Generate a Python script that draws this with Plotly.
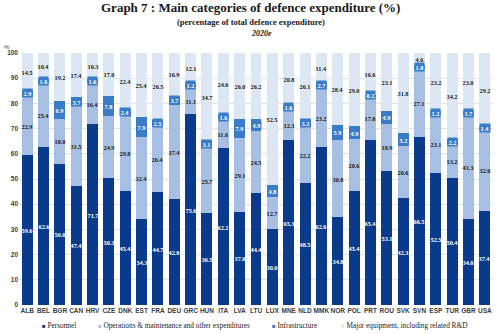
import plotly.graph_objects as go

countries = ["ALB", "BEL", "BGR", "CAN", "HRV", "CZE", "DNK", "EST", "FRA", "DEU",
             "GRC", "HUN", "ITA", "LVA", "LTU", "LUX", "MNE", "NLD", "MMK", "NOR",
             "POL", "PRT", "ROU", "SVK", "SVN", "ESP", "TUR", "GBR", "USA"]
personnel = [59.6, 62.6, 56.0, 47.4, 71.7, 50.3, 45.4, 34.3, 44.7, 42.0,
             75.6, 36.5, 62.2, 37.0, 44.4, 30.0, 65.3, 48.5, 62.6, 34.8,
             45.4, 65.4, 53.1, 42.3, 66.5, 52.5, 50.4, 34.0, 37.4]
operations = [22.9, 25.4, 18.0, 31.5, 16.4, 24.9, 29.8, 32.4, 26.4, 37.4,
              11.1, 25.7, 11.6, 29.1, 24.5, 12.7, 12.3, 22.2, 23.2, 30.8,
              20.6, 17.8, 18.9, 20.6, 27.1, 23.1, 13.2, 41.3, 32.0]
infrastructure = [2.9, 1.6, 6.9, 3.7, 1.6, 7.8, 2.4, 7.9, 2.5, 3.7,
                  1.2, 3.1, 1.6, 7.9, 4.9, 4.8, 1.6, 3.2, 2.7, 5.9,
                  4.9, 0.2, 4.9, 5.2, 1.8, 1.2, 2.2, 1.7, 1.4]
equipment = [14.5, 10.4, 19.2, 17.4, 10.3, 17.0, 22.4, 25.4, 26.5, 16.9,
             12.1, 34.7, 24.6, 26.0, 26.2, 52.5, 20.8, 26.1, 11.4, 28.4,
             29.0, 16.6, 23.1, 31.8, 4.6, 23.2, 34.2, 23.0, 29.2]
y_ticks = [0, 10, 20, 30, 40, 50, 60, 70, 80, 90, 100]

series = [
    ("Personnel", personnel, "#0a3b8a", "white", None),
    ("Operations & maintenance and other expenditures", operations, "#a6bfe2", "#1a1a1a", None),
    ("Infrastructure", infrastructure, "#3a7cc6", "white", "#3a7cc6"),
    ("Major equipment, including related R&D", equipment, "#dde7f4", "#1a1a1a", None),
]

W, H = 500, 334
ML, MR, MT, MB = 19, 7, 53, 29
PW, PH = W - ML - MR, H - MT - MB


def px_x(px):
    """Figure pixel column -> paper x."""
    return (px - ML) / PW


def px_y(py):
    """Figure pixel row (from top) -> paper y."""
    return (H - MB - py) / PH


SERIF = "Liberation Serif"
fig = go.Figure()
base = [0.0] * len(countries)
annotations = []
for name, vals, color, txtcolor, boxcolor in series:
    fig.add_trace(go.Bar(x=countries, y=vals, name=name, marker_color=color,
                         marker_line_width=0, showlegend=False))
    for c, b, v in zip(countries, base, vals):
        annotations.append(dict(
            x=c, y=b + v / 2, xref="x", yref="y", text=f"{v:.1f}", showarrow=False,
            font=dict(family=SERIF, size=6.3, color=txtcolor, weight="bold"),
            bgcolor=boxcolor, borderpad=0.5,
        ))
    base = [b + v for b, v in zip(base, vals)]

# titles
annotations += [
    dict(x=px_x(250), y=px_y(8), xref="paper", yref="paper", yanchor="middle", showarrow=False,
         text="<b>Graph 7 : Main categories of defence expenditure (%)</b>",
         font=dict(family=SERIF, size=13, color="#1a1a1a")),
    dict(x=px_x(251), y=px_y(22), xref="paper", yref="paper", yanchor="middle", showarrow=False,
         text="<b>(percentage of total defence expenditure)</b>",
         font=dict(family=SERIF, size=8.5, color="#1a1a1a")),
    dict(x=px_x(261), y=px_y(33), xref="paper", yref="paper", yanchor="middle", showarrow=False,
         text="<b><i>2020e</i></b>",
         font=dict(family=SERIF, size=8, color="#1a1a1a")),
    dict(x=px_x(2), y=px_y(47), xref="paper", yref="paper", xanchor="left", yanchor="middle",
         showarrow=False, text="%", font=dict(family="Liberation Sans", size=6, color="#404040")),
]

# legend drawn as a row of coloured squares with labels
legend_x = [40, 96, 270, 339]
for (name, _, color, _, _), lx in zip(series, legend_x):
    annotations.append(dict(
        x=px_x(lx), y=px_y(325), xref="paper", yref="paper", xanchor="left", yanchor="middle",
        showarrow=False,
        text=f"<span style='color:{color};font-size:6px'>■</span> {name}",
        font=dict(family=SERIF, size=7.3, color="#1a1a1a"),
    ))

fig.update_layout(
    barmode="stack", bargap=0.33,
    width=W, height=H,
    margin=dict(l=ML, r=MR, t=MT, b=MB, autoexpand=False),
    paper_bgcolor="white", plot_bgcolor="white",
    annotations=annotations,
    xaxis=dict(tickfont=dict(family="Liberation Sans", size=6.5, color="#404040", weight="bold"),
               showgrid=False, ticks="", showline=False, tickangle=0, automargin=False),
    yaxis=dict(range=[0, 100], tickvals=y_ticks, automargin=False,
               tickfont=dict(family="Liberation Sans", size=6.5, color="#404040", weight="bold"),
               showgrid=True, gridcolor="#e3e3e3", gridwidth=1, zeroline=False, ticks=""),
)

fig.write_html("out.html")
